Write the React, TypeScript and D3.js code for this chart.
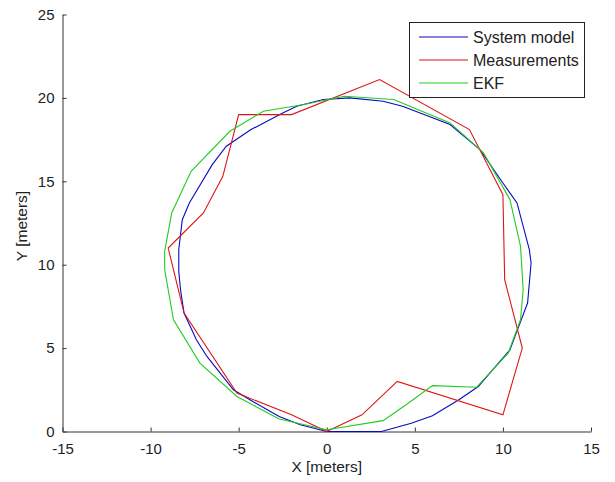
import { useEffect, useRef } from 'react';
import * as d3 from 'd3';

type Pt = [number, number];

// data
const systemModel: Pt[] = [
  [0, 0], [3.1, 0], [4.8, 0.5], [6.0, 0.95], [7.5, 1.9], [8.6, 2.7], [10.4, 4.9],
  [10.9, 6.3], [11.4, 7.7], [11.6, 10.1], [11.5, 10.9], [10.8, 13.7], [10.0, 14.9],
  [8.7, 16.9], [7.0, 18.4], [4.3, 19.5], [3.2, 19.8], [1.3, 20.0], [-0.2, 19.9],
  [-1.7, 19.5], [-2.5, 19.1], [-4.3, 18.1], [-5.7, 17.1], [-6.5, 16.0], [-7.8, 13.7],
  [-8.2, 12.7], [-8.4, 10.9], [-8.4, 9.6], [-8.3, 8.5], [-8.1, 7.1], [-7.4, 5.5],
  [-6.8, 4.5], [-5.3, 2.5], [-4.2, 1.8], [-2.7, 0.9], [-1.5, 0.4], [0, 0],
];

const measurements: Pt[] = [
  [0, 0], [2, 1], [4, 3], [10, 1], [11.1, 5], [10.1, 9.1], [10, 14.2], [8.1, 18.1],
  [3, 21.1], [-2, 19], [-5, 19], [-5.9, 15.3], [-7, 13.1], [-9, 11], [-8.1, 7.1],
  [-5.1, 2.3], [-2, 1], [0, 0],
];

const ekf: Pt[] = [
  [0, 0.1], [3.2, 0.65], [4.5, 1.6], [6.0, 2.75], [8.5, 2.65], [10.3, 4.7], [11.0, 6.7],
  [11.15, 8.5], [11.0, 11.1], [10.4, 13.9], [8.9, 16.7], [7.0, 18.5], [3.8, 19.9],
  [1.0, 20.1], [-1.3, 19.6], [-3.6, 19.2], [-5.5, 18.0], [-7.7, 15.6], [-8.8, 13.1],
  [-9.2, 10.8], [-9.2, 9.7], [-8.7, 6.7], [-7.2, 4.1], [-5.1, 2.1], [-2.7, 0.75], [0, 0.1],
];

const seriesNames = ['System model', 'Measurements', 'EKF'];
const seriesColors = ['#0a0ac0', '#dd1515', '#22cc22'];
const xTicks = [-15, -10, -5, 0, 5, 10, 15];
const yTicks = [0, 5, 10, 15, 20, 25];

const W = 615;
const H = 482;
const m = { left: 62.5, right: 591, top: 14.5, bottom: 431.5 };

const App = () => {
  const ref = useRef<SVGSVGElement>(null);

  useEffect(() => {
    const svg = d3.select(ref.current);
    svg.selectAll('*').remove();
    const font = 'Liberation Sans, Arial, sans-serif';

    const x = d3.scaleLinear().domain([-15, 15]).range([m.left, m.right]);
    const y = d3.scaleLinear().domain([0, 25]).range([m.bottom, m.top]);

    // axes (matlab style: ticks pointing inward, no box), plain hyphen for negatives
    const fmt = (d: d3.NumberValue) => String(d);
    const xAxis = svg
      .append('g')
      .attr('transform', `translate(0,${m.bottom})`)
      .call(d3.axisBottom(x).tickValues(xTicks).tickFormat(fmt).tickSize(-4).tickSizeOuter(0).tickPadding(12));
    const yAxis = svg
      .append('g')
      .attr('transform', `translate(${m.left},0)`)
      .call(d3.axisLeft(y).tickValues(yTicks).tickFormat(fmt).tickSize(-4).tickSizeOuter(0).tickPadding(8));
    [xAxis, yAxis].forEach((g) => {
      g.select('.domain').attr('stroke', '#333');
      g.selectAll('.tick line').attr('stroke', '#333');
      g.selectAll('.tick text').attr('fill', '#222').attr('font-family', font).attr('font-size', 15);
    });

    // lines
    const line = d3
      .line<Pt>()
      .x((d) => x(d[0]))
      .y((d) => y(d[1]));
    [systemModel, measurements, ekf].forEach((s, i) => {
      svg
        .append('path')
        .datum(s)
        .attr('d', line)
        .attr('fill', 'none')
        .attr('stroke', seriesColors[i])
        .attr('stroke-width', 1.1);
    });

    // axis labels
    svg
      .append('text')
      .attr('x', x(0))
      .attr('y', 472)
      .attr('text-anchor', 'middle')
      .attr('font-family', font)
      .attr('font-size', 15.5)
      .attr('fill', '#222')
      .text('X [meters]');
    svg
      .append('text')
      .attr('transform', `translate(27,${(m.top + m.bottom) / 2 + 3}) rotate(-90)`)
      .attr('text-anchor', 'middle')
      .attr('font-family', font)
      .attr('font-size', 15.5)
      .attr('fill', '#222')
      .text('Y [meters]');

    // legend
    const lg = svg.append('g');
    lg.append('rect')
      .attr('x', 409.5)
      .attr('y', 22.5)
      .attr('width', 175)
      .attr('height', 75)
      .attr('fill', '#fff')
      .attr('stroke', '#222');
    seriesNames.forEach((name, i) => {
      const ly = 37 + i * 23;
      lg.append('line')
        .attr('x1', 419)
        .attr('x2', 468)
        .attr('y1', ly)
        .attr('y2', ly)
        .attr('stroke', seriesColors[i])
        .attr('stroke-width', 1.1);
      lg.append('text')
        .attr('x', 473)
        .attr('y', ly + 5.5)
        .attr('font-family', font)
        .attr('font-size', 16)
        .attr('fill', '#222')
        .text(name);
    });
  }, []);

  return (
    <svg
      ref={ref}
      width={W}
      height={H}
      style={{ position: 'absolute', left: 0, top: 0, background: '#fff' }}
    ></svg>
  );
};

export default App;
